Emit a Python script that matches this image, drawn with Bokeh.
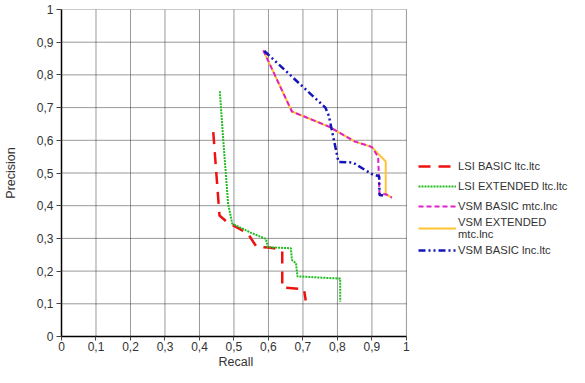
from bokeh.plotting import figure
from bokeh.models import Legend, LegendItem, FixedTicker, Range1d, Title
from bokeh.embed import file_html
from bokeh.resources import INLINE

# ---- data ----
ticks = [0, 0.1, 0.2, 0.3, 0.4, 0.5, 0.6, 0.7, 0.8, 0.9, 1]
tick_labels = ["0", "0,1", "0,2", "0,3", "0,4", "0,5", "0,6", "0,7", "0,8", "0,9", "1"]

lsi_basic_recall = [0.440, 0.458, 0.480, 0.515, 0.540, 0.565, 0.600, 0.632, 0.640, 0.640, 0.703, 0.708]
lsi_basic_precision = [0.625, 0.370, 0.350, 0.330, 0.315, 0.275, 0.272, 0.267, 0.262, 0.150, 0.145, 0.110]

lsi_ext_recall = [0.459, 0.469, 0.476, 0.483, 0.495, 0.550, 0.593, 0.598, 0.665, 0.668, 0.680, 0.684, 0.808, 0.808]
lsi_ext_precision = [0.750, 0.600, 0.504, 0.406, 0.345, 0.317, 0.298, 0.273, 0.270, 0.234, 0.224, 0.184, 0.177, 0.106]

vsm_basic_mtc_recall = [0.585, 0.668, 0.775, 0.851, 0.899, 0.918, 0.922, 0.940, 0.958]
vsm_basic_mtc_precision = [0.875, 0.688, 0.642, 0.596, 0.580, 0.550, 0.435, 0.435, 0.425]

vsm_ext_mtc_recall = [0.585, 0.668, 0.775, 0.851, 0.899, 0.940, 0.940, 0.958]
vsm_ext_mtc_precision = [0.875, 0.688, 0.642, 0.596, 0.580, 0.535, 0.435, 0.425]

vsm_basic_lnc_recall = [0.588, 0.765, 0.775, 0.803, 0.845, 0.899, 0.921, 0.922, 0.932]
vsm_basic_lnc_precision = [0.873, 0.700, 0.675, 0.534, 0.532, 0.497, 0.490, 0.433, 0.431]

series_labels = ["LSI BASIC ltc.ltc", "LSI EXTENDED ltc.ltc", "VSM BASIC mtc.lnc",
                 "VSM EXTENDED\nmtc.lnc", "VSM BASIC lnc.ltc"]
x_title = "Recall"
y_title = "Precision"

FONT = "Liberation Sans"

W, H = 569, 367
LEFT, TOP = 55, 9
PLOT_W = 349          # pixel width of the 0..1 recall span
FRAME_W = W - LEFT    # frame extends to the right edge to host the legend
X_TITLE_W = 35        # approx. pixel width of the x title text

p = figure(width=W, height=H, output_backend="svg", toolbar_location=None,
           x_range=Range1d(ticks[0], ticks[-1] * FRAME_W / PLOT_W),
           y_range=Range1d(ticks[0], ticks[-1]),
           min_border_left=LEFT, min_border_right=0, min_border_top=TOP, min_border_bottom=0)
p.outline_line_color = None
p.background_fill_color = "white"
p.border_fill_color = "white"
p.xgrid.visible = False
p.ygrid.visible = False

for ax in (p.xaxis[0], p.yaxis[0]):
    ax.ticker = FixedTicker(ticks=ticks)
    ax.major_label_overrides = dict(zip(ticks, tick_labels))
    ax.minor_tick_line_color = None
    ax.major_tick_in = 0
    ax.axis_line_color = "black"
    ax.axis_line_width = 1.5
    ax.major_tick_line_color = "#444444"
    ax.major_label_text_font = FONT
    ax.major_label_text_font_size = "12px"
    ax.major_label_text_color = "#333333"
    ax.axis_label_text_font = FONT
    ax.axis_label_text_font_size = "12.5px"
    ax.axis_label_text_font_style = "normal"
    ax.axis_label_text_color = "#333333"

p.xaxis.bounds = (ticks[0], ticks[-1])
p.yaxis.axis_label = y_title
p.xaxis.major_tick_out = 4
p.yaxis.major_tick_out = 5
p.xaxis.major_label_standoff = 1
p.yaxis.major_label_standoff = 3
p.yaxis.axis_label_standoff = 16

# x-axis title centred under the 0..1 span
p.add_layout(Title(text=x_title, align="left", offset=PLOT_W / 2 - X_TITLE_W / 2,
                   standoff=-2, text_font=FONT, text_font_size="12.5px",
                   text_font_style="normal", text_color="#333333"), "below")

# dotted grid limited to the 0..1 square
g = ticks[1:]
n = len(g)
p.segment(x0=[ticks[0]] * n, y0=g, x1=[ticks[-1]] * n, y1=g,
          line_color="#333333", line_dash="1 1", line_width=1)
p.segment(x0=g, y0=[ticks[0]] * n, x1=g, y1=[ticks[-1]] * n,
          line_color="#333333", line_dash="1 1", line_width=1)

r1 = p.line(lsi_basic_recall, lsi_basic_precision, line_color="#ee1111", line_width=2.5,
            line_dash="12 8")
r2 = p.line(lsi_ext_recall, lsi_ext_precision, line_color="#22bb22", line_width=2,
            line_dash="2 1")
r4 = p.line(vsm_ext_mtc_recall, vsm_ext_mtc_precision, line_color="#ffc433", line_width=2)
r3 = p.line(vsm_basic_mtc_recall, vsm_basic_mtc_precision, line_color="#e020c8", line_width=2,
            line_dash="5 3")
r5 = p.line(vsm_basic_lnc_recall, vsm_basic_lnc_precision, line_color="#1515bb", line_width=2.5,
            line_dash="7 3 2 3 2 3")

legend = Legend(items=[LegendItem(label=series_labels[0], renderers=[r1]),
                       LegendItem(label=series_labels[1], renderers=[r2]),
                       LegendItem(label=series_labels[2], renderers=[r3]),
                       LegendItem(label=series_labels[3], renderers=[r4]),
                       LegendItem(label=series_labels[4], renderers=[r5])],
                location=(PLOT_W + 8, 76))
legend.border_line_color = None
legend.background_fill_alpha = 0
legend.padding = 0
legend.margin = 0
legend.spacing = 0
legend.glyph_width = 38
legend.glyph_height = 20
legend.label_standoff = 2
legend.label_text_font = FONT
legend.label_text_font_size = "11.2px"
legend.label_text_line_height = 1.45
legend.label_text_color = "#333333"
p.add_layout(legend)

open("out.html", "w").write(file_html(p, INLINE))
